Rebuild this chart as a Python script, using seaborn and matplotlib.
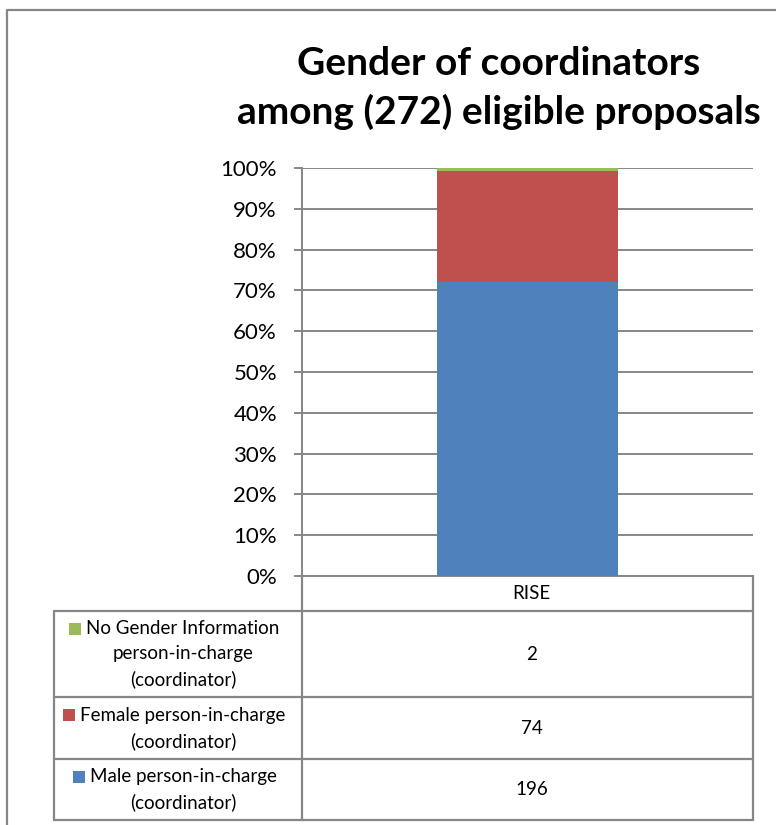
import matplotlib
matplotlib.use("Agg")
import matplotlib.pyplot as plt
from matplotlib.patches import Rectangle
import seaborn as sns

# data
categories = ["RISE"]
series_names = ["No Gender Information\nperson-in-charge\n(coordinator)",
                "Female person-in-charge\n(coordinator)",
                "Male person-in-charge\n(coordinator)"]
no_info = [2]
female = [74]
male = [196]
colors = ["#9BBB59", "#C0504D", "#4F81BD"]
yticks = list(range(0, 101, 10))

sns.set_style("white")
plt.rcParams["font.family"] = ["Lato", "DejaVu Sans"]
plt.rcParams["text.color"] = "black"

W, H = 776, 825
fig = plt.figure(figsize=(W / 100, H / 100), dpi=100)

# background layer in pixel units for frame + data table
bg = fig.add_axes([0, 0, 1, 1], zorder=0)
bg.set_xlim(0, W)
bg.set_ylim(H, 0)
bg.axis("off")

ax = fig.add_axes([302 / W, 1 - 576 / H, 451 / W, 408 / H], zorder=1)
ax.patch.set_alpha(0)

# stacked 100% bar: draw cumulative heights from the top down
series = [no_info, female, male]
totals = [a + b + c for a, b, c in zip(no_info, female, male)]
cum = [[0.0] * len(categories) for _ in series]
running = [0.0] * len(categories)
for i in range(len(series) - 1, -1, -1):
    running = [r + 100.0 * v / t for r, v, t in zip(running, series[i], totals)]
    cum[i] = running
for i in range(len(series)):
    sns.barplot(x=categories, y=cum[i], color=colors[i], width=0.4,
                saturation=1, linewidth=0, ax=ax, zorder=2 + i)

grey = "#868686"
ax.set_xlim(-0.5, 0.5)
ax.set_ylim(0, 100)
ax.set_yticks(yticks)
ax.set_yticklabels([f"{v}%" for v in yticks])
ax.set_xticks([])
ax.yaxis.grid(True, color=grey, lw=1.4)
ax.set_axisbelow(True)
for s in ["top", "right"]:
    ax.spines[s].set_visible(False)
for s in ["left", "bottom"]:
    ax.spines[s].set_color(grey)
    ax.spines[s].set_linewidth(1.4)
ax.tick_params(axis="y", left=True, length=6, width=1.4, color=grey,
               labelsize=16, pad=12, labelcolor="black")

# title
fig.text(499 / W, 1 - 75 / H, "Gender of coordinators", ha="center",
         va="baseline", fontsize=28, fontweight="bold", color="black")
fig.text(499 / W, 1 - 124 / H, "among (272) eligible proposals", ha="center",
         va="baseline", fontsize=28, fontweight="bold", color="black")

# outer chart frame
lw = 1.6
bg.plot([7, 7, W + 5], [H + 5, 10, 10], color=grey, lw=lw)

# data table
xl, xm, xr = 54, 302, 753
y_hdr, rows_y = 576, [611, 697, 759, 820]
bg.plot([xm, xm], [y_hdr, rows_y[-1]], color=grey, lw=lw)
bg.plot([xr, xr], [y_hdr, rows_y[-1]], color=grey, lw=lw)
bg.plot([xl, xl], [rows_y[0], rows_y[-1]], color=grey, lw=lw)
for y in rows_y:
    bg.plot([xl, xr], [y, y], color=grey, lw=lw)

fs = 13.5
xc = (xm + xr) / 2 + 4
bg.text(xc, (y_hdr + rows_y[0]) / 2, categories[0], ha="center", va="center",
        fontsize=fs)

fig.canvas.draw()
rend = fig.canvas.get_renderer()
line_h = 25.5
for i, (name, vals) in enumerate(zip(series_names, series)):
    y0, y1 = rows_y[i], rows_y[i + 1]
    yc = (y0 + y1) / 2
    bg.text(xc, yc, str(vals[0]), ha="center", va="center", fontsize=fs)
    lines = name.split("\n")
    n = len(lines)
    for j, ln in enumerate(lines):
        yy = yc + (j - (n - 1) / 2) * line_h
        t = bg.text(183, yy, ln, ha="center", va="center", fontsize=fs)
        if j == 0:
            bb = t.get_window_extent(rend)
            x0 = bg.transData.inverted().transform((bb.x0, bb.y0))[0]
            bg.add_patch(Rectangle((x0 - 17, yy - 6), 12, 12,
                                   color=colors[i], lw=0))

fig.savefig("out.png", dpi=100)
